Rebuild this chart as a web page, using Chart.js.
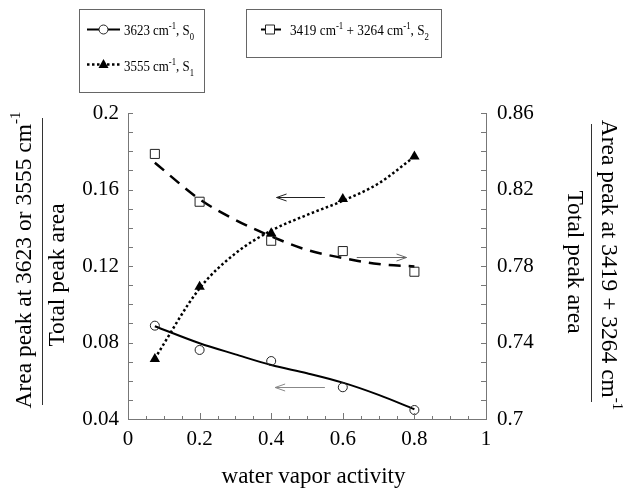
<!DOCTYPE html>
<html>
<head>
<meta charset="utf-8">
<script src="https://cdn.jsdelivr.net/npm/chart.js@4.4.0/dist/chart.umd.min.js"></script>
<style>
  body { margin: 0; background: #fff; }
  #wrap { width: 626px; height: 488px; }
</style>
</head>
<body>
<div id="wrap"><canvas id="myChart" width="626" height="488"></canvas></div>
<script>
const activity = [0.075, 0.2, 0.4, 0.6, 0.8];
const s0Points = [0.0888, 0.0761, 0.0703, 0.0566, 0.0447];
const s1Points = [0.0714, 0.1092, 0.1371, 0.155, 0.1772];
const s2Points = [0.8386, 0.8136, 0.7932, 0.7878, 0.777];
// fitted curves
const fitActivity = [0.075, 0.2, 0.3, 0.4, 0.5, 0.6, 0.7, 0.8];
const s0Fit = [0.0885, 0.0796, 0.0738, 0.0682, 0.0639, 0.059, 0.0526, 0.0451];
const s1Fit = [0.0717, 0.1083, 0.1266, 0.1385, 0.1467, 0.1541, 0.1632, 0.1772];
const s2Fit = [0.834, 0.8149, 0.8041, 0.7955, 0.7884, 0.7842, 0.781, 0.7798];

const xTicks = [0, 0.2, 0.4, 0.6, 0.8, 1];
const leftTicks = [0.04, 0.08, 0.12, 0.16, 0.2];
const rightTicks = [0.7, 0.74, 0.78, 0.82, 0.86];

// arrows pointing at the axis each curve belongs to
const arrowFrom = [0.55, 0.639, 0.55];
const arrowTo = [0.415, 0.778, 0.411];
const arrowY = [0.1559, 0.7849, 0.0566];
const arrowAxis = ['y', 'y2', 'y'];

const serif = '"Liberation Serif", "DejaVu Serif", serif';

function toXY(xs, ys) {
  return xs.map((x, i) => ({ x: x, y: ys[i] }));
}

function fontFor(kind, size) {
  return kind ? Math.round(size * 0.65) + 'px ' + serif : size + 'px ' + serif;
}

function richWidth(ctx, parts, size) {
  let w = 0;
  parts.forEach((p) => { ctx.font = fontFor(p[1], size); w += ctx.measureText(p[0]).width; });
  return w;
}

// draws text with super/subscripts, parts = [[text, kind], ...]
function drawRich(ctx, parts, x, y, size, center) {
  let cx = center ? x - richWidth(ctx, parts, size) / 2 : x;
  parts.forEach((p) => {
    ctx.font = fontFor(p[1], size);
    let dy = 0;
    if (p[1] === 'sup') dy = -size * 0.4;
    if (p[1] === 'sub') dy = size * 0.3;
    ctx.fillText(p[0], cx, y + dy);
    cx += ctx.measureText(p[0]).width;
  });
}

// text squeezed along its baseline to a given length
function drawFit(ctx, parts, x, y, size, length) {
  ctx.save();
  ctx.translate(x, y);
  ctx.scale(length / richWidth(ctx, parts, size), 1);
  drawRich(ctx, parts, 0, 0, size);
  ctx.restore();
}

function marker(ctx, style, x, y) {
  ctx.save();
  ctx.setLineDash([]);
  ctx.lineWidth = 1;
  ctx.strokeStyle = '#222';
  ctx.fillStyle = '#fff';
  ctx.beginPath();
  if (style === 'circle') {
    ctx.arc(x, y, 4.5, 0, Math.PI * 2);
    ctx.fill(); ctx.stroke();
  } else if (style === 'triangle') {
    ctx.fillStyle = '#000';
    ctx.moveTo(x, y - 5.5);
    ctx.lineTo(x + 5, y + 3.5);
    ctx.lineTo(x - 5, y + 3.5);
    ctx.closePath();
    ctx.fill();
  } else {
    ctx.rect(x - 4.5, y - 4.5, 9, 9);
    ctx.fill(); ctx.stroke();
  }
  ctx.restore();
}

const inwardTicks = {
  id: 'inwardTicks',
  afterDraw(chart) {
    const { ctx, chartArea: a, scales } = chart;
    ctx.save();
    ctx.strokeStyle = '#777';
    ctx.lineWidth = 1;
    ctx.beginPath();
    for (let i = 0; i <= 16; i += 1) {
      const y = Math.round(scales.y.getPixelForValue(0.04 + i * 0.01)) + 0.5;
      ctx.moveTo(a.left, y); ctx.lineTo(a.left + 5, y);
      ctx.moveTo(a.right, y); ctx.lineTo(a.right - 5, y);
    }
    for (let i = 0; i <= 20; i += 1) {
      const x = Math.round(scales.x.getPixelForValue(i * 0.05)) + 0.5;
      const len = i % 4 === 0 ? 6 : 3;
      ctx.moveTo(x, a.bottom); ctx.lineTo(x, a.bottom - len);
    }
    ctx.stroke();
    ctx.restore();
  }
};

const arrows = {
  id: 'arrows',
  afterDatasetsDraw(chart) {
    const { ctx, scales } = chart;
    const colors = ['#222', '#666', '#888'];
    ctx.save();
    ctx.lineWidth = 1;
    arrowFrom.forEach((from, i) => {
      const x1 = scales.x.getPixelForValue(from);
      const x2 = scales.x.getPixelForValue(arrowTo[i]);
      const y = Math.round(scales[arrowAxis[i]].getPixelForValue(arrowY[i])) + 0.5;
      const dir = x2 > x1 ? 1 : -1;
      ctx.strokeStyle = colors[i];
      ctx.beginPath();
      ctx.moveTo(x1, y); ctx.lineTo(x2, y);
      ctx.moveTo(x2 - dir * 10, y - 3.5); ctx.lineTo(x2, y); ctx.lineTo(x2 - dir * 10, y + 3.5);
      ctx.stroke();
    });
    ctx.restore();
  }
};

const labels = {
  id: 'labels',
  afterDraw(chart) {
    const ctx = chart.ctx;
    ctx.save();
    ctx.fillStyle = '#000';

    // legend boxes
    ctx.strokeStyle = '#666';
    ctx.lineWidth = 1;
    ctx.strokeRect(79.5, 9.5, 125, 83);
    ctx.strokeRect(246.5, 9.5, 195, 48);

    ctx.lineWidth = 2;
    ctx.strokeStyle = '#000';
    ctx.setLineDash([]);
    ctx.beginPath(); ctx.moveTo(87, 29.5); ctx.lineTo(120, 29.5); ctx.stroke();
    marker(ctx, 'circle', 103.5, 29.5);
    ctx.setLineDash([2.5, 2.5]);
    ctx.lineWidth = 2.5;
    ctx.beginPath(); ctx.moveTo(87, 64.5); ctx.lineTo(120, 64.5); ctx.stroke();
    marker(ctx, 'triangle', 103.5, 64.5);
    ctx.setLineDash([]);
    ctx.lineWidth = 2;
    ctx.beginPath(); ctx.moveTo(261, 29.5); ctx.lineTo(265, 29.5); ctx.moveTo(275, 29.5); ctx.lineTo(281, 29.5); ctx.stroke();
    marker(ctx, 'rect', 270, 29.5);

    ctx.textBaseline = 'alphabetic';
    drawFit(ctx, [['3623 cm'], ['-1', 'sup'], [', S'], ['0', 'sub']], 124, 35, 15, 70);
    drawFit(ctx, [['3555 cm'], ['-1', 'sup'], [', S'], ['1', 'sub']], 124, 71, 15, 70);
    drawFit(ctx, [['3419 cm'], ['-1', 'sup'], [' + 3264 cm'], ['-1', 'sup'], [', S'], ['2', 'sub']], 290, 35, 15, 139);

    // x axis title
    ctx.font = '23px ' + serif;
    ctx.textAlign = 'center';
    ctx.fillText('water vapor activity', 313.5, 483);
    ctx.textAlign = 'left';

    // left axis title as a fraction
    ctx.textBaseline = 'middle';
    ctx.lineWidth = 1;
    ctx.strokeStyle = '#333';
    ctx.save();
    ctx.rotate(-Math.PI / 2);
    // in this frame x = -screenY, y = screenX
    drawRich(ctx, [['Area peak at 3623 or 3555 cm'], ['-1', 'sup']], -260, 25, 23.5, true);
    ctx.beginPath(); ctx.moveTo(-405, 42.5); ctx.lineTo(-118, 42.5); ctx.stroke();
    drawRich(ctx, [['Total peak area']], -275, 58, 23.5, true);
    ctx.restore();

    // right axis title
    ctx.save();
    ctx.rotate(Math.PI / 2);
    // in this frame x = screenY, y = -screenX
    drawRich(ctx, [['Area peak at 3419 + 3264 cm'], ['-1', 'sup']], 265, -608, 23.5, true);
    ctx.beginPath(); ctx.moveTo(124, -591.5); ctx.lineTo(402, -591.5); ctx.stroke();
    drawRich(ctx, [['Total peak area']], 262, -574, 23.5, true);
    ctx.restore();

    ctx.restore();
  }
};

const tickFont = { family: serif, size: 21 };

const ctx = document.getElementById('myChart').getContext('2d');
const myChart = new Chart(ctx, {
  type: 'scatter',
  data: {
    datasets: [
      { label: 'S0', data: toXY(activity, s0Points), yAxisID: 'y', showLine: false, pointStyle: 'circle', pointRadius: 4.5,
        pointBorderColor: '#222', pointBackgroundColor: 'rgba(0,0,0,0)', pointBorderWidth: 1 },
      { label: 'S1', data: toXY(activity, s1Points), yAxisID: 'y', showLine: false, pointStyle: 'triangle', pointRadius: 6,
        pointBorderColor: '#000', pointBackgroundColor: '#000', pointBorderWidth: 0 },
      { label: 'S2', data: toXY(activity, s2Points), yAxisID: 'y2', showLine: false, pointStyle: 'rect', pointRadius: 6.4,
        pointBorderColor: '#222', pointBackgroundColor: 'rgba(0,0,0,0)', pointBorderWidth: 1 },
      { label: 'S0 fit', data: toXY(fitActivity, s0Fit), yAxisID: 'y', showLine: true, pointRadius: 0, borderColor: '#000',
        borderWidth: 2, cubicInterpolationMode: 'monotone' },
      { label: 'S1 fit', data: toXY(fitActivity, s1Fit), yAxisID: 'y', showLine: true, pointRadius: 0, borderColor: '#000',
        borderWidth: 2.5, borderDash: [2.5, 2.5], cubicInterpolationMode: 'monotone' },
      { label: 'S2 fit', data: toXY(fitActivity, s2Fit), yAxisID: 'y2', showLine: true, pointRadius: 0, borderColor: '#000',
        borderWidth: 2.5, borderDash: [12, 8], cubicInterpolationMode: 'monotone' }
    ]
  },
  options: {
    responsive: false,
    animation: false,
    devicePixelRatio: 1,
    layout: { padding: { top: 113, left: 0, right: 0, bottom: 0 } },
    plugins: { legend: { display: false }, tooltip: { enabled: false } },
    scales: {
      x: {
        type: 'linear', min: 0, max: 1,
        afterFit(s) { s.height = 69; },
        afterBuildTicks(s) { s.ticks = xTicks.map((v) => ({ value: v })); },
        ticks: { color: '#000', font: tickFont, padding: 8, callback: (v) => String(v) },
        grid: { display: false, drawTicks: false },
        border: { display: true, color: '#777' }
      },
      y: {
        type: 'linear', position: 'left', min: 0.04, max: 0.2,
        afterFit(s) { s.width = 128; },
        afterBuildTicks(s) { s.ticks = leftTicks.map((v) => ({ value: v })); },
        ticks: { color: '#000', font: tickFont, padding: 9, callback: (v) => String(v) },
        grid: { display: false, drawTicks: false },
        border: { display: true, color: '#777' }
      },
      y2: {
        type: 'linear', position: 'right', min: 0.7, max: 0.86,
        afterFit(s) { s.width = 140; },
        afterBuildTicks(s) { s.ticks = rightTicks.map((v) => ({ value: v })); },
        ticks: { color: '#000', font: tickFont, padding: 11, callback: (v) => String(v) },
        grid: { display: false, drawTicks: false },
        border: { display: true, color: '#777' }
      }
    }
  },
  plugins: [inwardTicks, arrows, labels]
});
</script>
</body>
</html>
